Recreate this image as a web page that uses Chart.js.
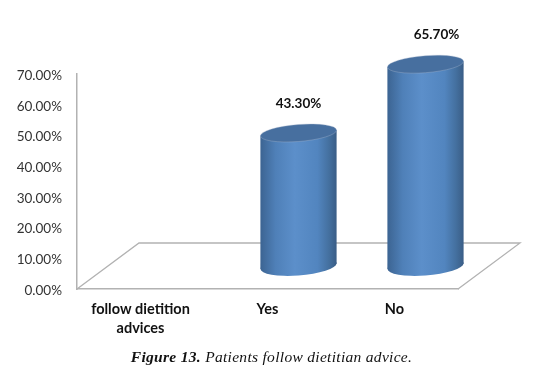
<!DOCTYPE html>
<html>
<head>
<meta charset="utf-8">
<style>
  html, body { margin: 0; padding: 0; background: #fff; }
  #wrap { position: relative; width: 560px; height: 370px; overflow: hidden; }
  #caption {
    position: absolute; left: 0; width: 543px; top: 348px; text-align: center;
    font: italic 15.5px "Liberation Serif", serif; letter-spacing: 0.3px; color: #111; white-space: nowrap;
  }
</style>
</head>
<body>
<div id="wrap">
  <canvas id="grafico" width="560" height="370"></canvas>
  <div id="caption"><b>Figure 13.</b> Patients follow dietitian advice.</div>
</div>
<script src="https://cdn.jsdelivr.net/npm/chart.js@4"></script>
<script>
const categorias = [['follow dietition', 'advices'], 'Yes', 'No'];
const valores = [null, 43.3, 65.7];
const etiquetas = ['', '43.30%', '65.70%'];

// Falso 3D: el suelo va hacia atras y las barras quedan a media profundidad
const FONDO_X = 62, FONDO_Y = 46;
const INCLINACION = -0.075;
const RADIO_Y = 8.5;

function gradienteBarra(ctx, x, ancho) {
    const g = ctx.createLinearGradient(x - ancho / 2, 0, x + ancho / 2, 0);
    g.addColorStop(0, '#3c6492');
    g.addColorStop(0.2, '#4f80b8');
    g.addColorStop(0.45, '#5c8fca');
    g.addColorStop(0.75, '#5285bf');
    g.addColorStop(0.9, '#44709f');
    g.addColorStop(1, '#3a5d86');
    return g;
}

const cilindros = {
    id: 'cilindros',
    beforeDatasetsDraw(chart) {
        // Suelo
        const ctx = chart.ctx, a = chart.chartArea;
        ctx.save();
        ctx.strokeStyle = '#b2b2b2';
        ctx.lineWidth = 1.3;
        ctx.beginPath();
        ctx.moveTo(a.left, a.bottom);
        ctx.lineTo(a.left + FONDO_X, a.bottom - FONDO_Y);
        ctx.lineTo(a.right + FONDO_X, a.bottom - FONDO_Y);
        ctx.lineTo(a.right, a.bottom);
        ctx.stroke();
        ctx.restore();
    },
    beforeDatasetDraw(chart, args) {
        const ctx = chart.ctx;
        args.meta.data.forEach((bar, i) => {
            if (valores[i] === null) return;
            ctx.save();
            ctx.translate(FONDO_X / 2, -FONDO_Y / 2);
            // inclinar alrededor del centro de la barra
            ctx.transform(1, INCLINACION, 0, 1, 0, -INCLINACION * bar.x);
            // base
            ctx.fillStyle = gradienteBarra(ctx, bar.x, bar.width);
            ctx.beginPath();
            ctx.ellipse(bar.x, bar.base, bar.width / 2, RADIO_Y + 1, 0, 0, Math.PI * 2);
            ctx.fill();
            bar.draw(ctx, chart.chartArea);
            // tapa
            ctx.fillStyle = '#476f9f';
            ctx.strokeStyle = 'rgba(170,185,205,0.45)';
            ctx.lineWidth = 0.8;
            ctx.beginPath();
            ctx.ellipse(bar.x, bar.y, bar.width / 2, RADIO_Y, 0, 0, Math.PI * 2);
            ctx.fill();
            ctx.stroke();
            ctx.restore();
        });
        return false;
    },
    afterDatasetsDraw(chart) {
        const ctx = chart.ctx;
        const bars = chart.getDatasetMeta(0).data;
        ctx.save();
        ctx.fillStyle = '#111';
        ctx.font = 'bold 13.5px Lato';
        ctx.textAlign = 'center';
        ctx.textBaseline = 'middle';
        bars.forEach((bar, i) => {
            if (valores[i] === null) return;
            // la etiqueta del No esta un poco corrida a la derecha en el original
            const extra = i === 2 ? 11 : 0;
            ctx.fillText(etiquetas[i], bar.x + FONDO_X / 2 + extra, bar.y - FONDO_Y / 2 - 29.5);
        });
        ctx.restore();
    }
};

new Chart(document.getElementById('grafico'), {
    type: 'bar',
    data: {
        labels: categorias,
        datasets: [{
            data: valores,
            categoryPercentage: 1,
            barPercentage: 0.6,
            clip: false,
            backgroundColor(c) {
                const eje = c.chart.scales.x;
                const x = eje ? eje.getPixelForValue(c.dataIndex) : NaN;
                if (!isFinite(x)) return '#5285bf';
                const banda = eje.width / categorias.length;
                return gradienteBarra(c.chart.ctx, x, banda * 0.6);
            }
        }]
    },
    options: {
        responsive: false,
        animation: false,
        layout: { padding: { top: 74, right: 102, left: 0, bottom: 0 } },
        plugins: { legend: { display: false }, tooltip: { enabled: false } },
        scales: {
            x: {
                grid: { display: false },
                border: { color: '#b2b2b2', width: 1.5 },
                afterFit(s) { s.height = 81; },
                ticks: {
                    padding: 3,
                    maxRotation: 0,
                    autoSkip: false,
                    color: '#111',
                    font: { family: 'Lato', weight: 'bold', size: 14.5, lineHeight: 1.3 }
                }
            },
            y: {
                min: 0,
                max: 70,
                grid: { display: false },
                border: { color: '#b2b2b2', width: 1.5 },
                afterFit(s) { s.width = 77; },
                ticks: {
                    stepSize: 10,
                    padding: 7,
                    labelOffset: 1.5,
                    color: '#333',
                    font: { family: 'Lato', size: 13.5 },
                    callback: v => v.toFixed(2) + '%'
                }
            }
        }
    },
    plugins: [cilindros]
});
</script>
</body>
</html>
